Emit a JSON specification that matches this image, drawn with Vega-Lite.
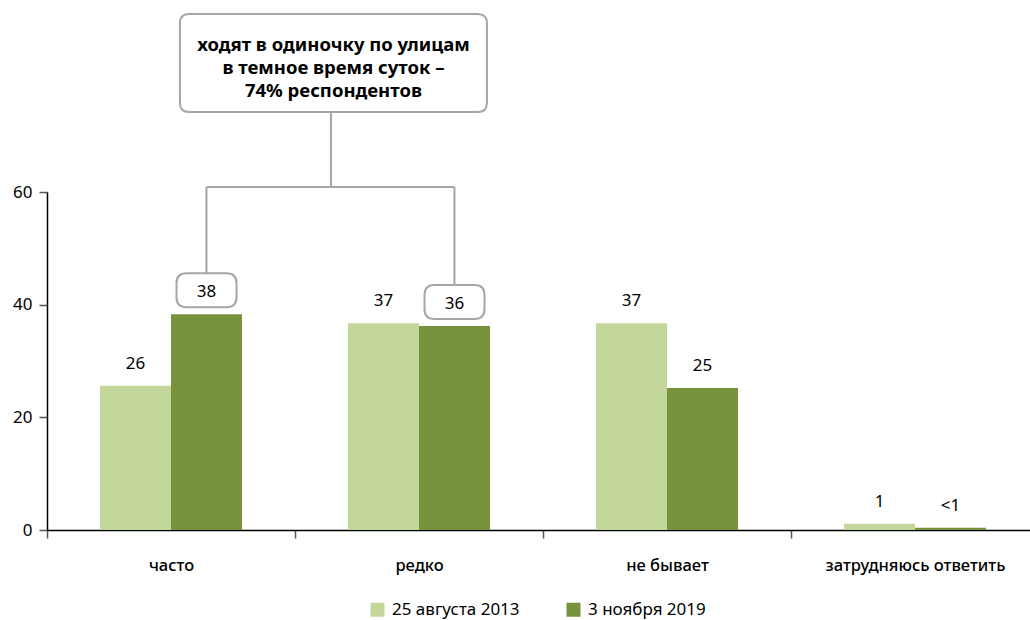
{
  "$schema": "https://vega.github.io/schema/vega-lite/v6.json",
  "width": 992,
  "height": 338,
  "autosize": "none",
  "padding": {"left": 47, "top": 192, "right": 0, "bottom": 90},
  "config": {
    "view": {"stroke": null},
    "font": "Noto Sans",
    "text": {"color": "#000000"},
    "legend": {"padding": 0}
  },
  "datasets": {
    "bars": [
      {"category": "часто", "series": "25 августа 2013", "value": 25.6, "label": "26", "boxed": false},
      {"category": "часто", "series": "3 ноября 2019", "value": 38.3, "label": "38", "boxed": true},
      {"category": "редко", "series": "25 августа 2013", "value": 36.7, "label": "37", "boxed": false},
      {"category": "редко", "series": "3 ноября 2019", "value": 36.2, "label": "36", "boxed": true},
      {"category": "не бывает", "series": "25 августа 2013", "value": 36.7, "label": "37", "boxed": false},
      {"category": "не бывает", "series": "3 ноября 2019", "value": 25.2, "label": "25", "boxed": false},
      {"category": "затрудняюсь ответить", "series": "25 августа 2013", "value": 1.1, "label": "1", "boxed": false},
      {"category": "затрудняюсь ответить", "series": "3 ноября 2019", "value": 0.4, "label": "<1", "boxed": false}
    ],
    "connectors": [
      {"x": 1.145, "x2": 1.145, "y": 74.2, "y2": 60.9},
      {"x": 0.643, "x2": 1.643, "y": 60.9, "y2": 60.9},
      {"x": 0.643, "x2": 0.643, "y": 60.9, "y2": 45.6},
      {"x": 1.643, "x2": 1.643, "y": 60.9, "y2": 43.5}
    ],
    "note": [
      {"x": 1.155, "y": 82.9, "ty": 86.1, "text": ["ходят в одиночку по улицам", "в темное время суток –", "74% респондентов"]}
    ]
  },
  "layer": [
    {
      "data": {"name": "bars"},
      "encoding": {
        "x": {
          "field": "category", "type": "nominal",
          "sort": ["часто", "редко", "не бывает", "затрудняюсь ответить"],
          "scale": {"paddingInner": 0, "paddingOuter": 0},
          "axis": {
            "title": null, "labelAngle": 0, "domainColor": "#000000", "domainWidth": 1.5,
            "tickBand": "extent", "tickSize": 8, "tickColor": "#555555", "tickWidth": 1.5,
            "labelFontSize": 16.5, "labelFontWeight": 500, "labelColor": "#000000", "labelPadding": 19
          }
        },
        "xOffset": {
          "field": "series", "type": "nominal",
          "sort": ["25 августа 2013", "3 ноября 2019"],
          "scale": {"paddingInner": 0, "paddingOuter": 0.746}
        },
        "y": {
          "field": "value", "type": "quantitative", "title": null,
          "scale": {"domain": [0, 60], "nice": false},
          "axis": {
            "values": [0, 20, 40, 60], "grid": false, "domainColor": "#000000", "domainWidth": 1.5,
            "tickSize": 8, "tickColor": "#555555", "tickWidth": 1.5,
            "labelFontSize": 17, "labelColor": "#000000", "labelPadding": 7
          }
        }
      },
      "layer": [
        {
          "mark": {"type": "bar"},
          "encoding": {
            "color": {
              "field": "series", "type": "nominal",
              "scale": {"domain": ["25 августа 2013", "3 ноября 2019"], "range": ["#c4d79b", "#77933c"]},
              "legend": {
                "title": null, "orient": "none", "direction": "horizontal",
                "legendX": 322, "legendY": 409,
                "symbolType": "square", "symbolSize": 196, "symbolStrokeWidth": 0,
                "labelFontSize": 17, "labelColor": "#000000", "labelOffset": 6, "columnPadding": 45
              }
            }
          }
        },
        {
          "transform": [{"filter": "datum.boxed"}],
          "mark": {
            "type": "point",
            "shape": "M -0.667 -0.567 L 0.667 -0.567 Q 1 -0.567 1 -0.233 L 1 0.233 Q 1 0.567 0.667 0.567 L -0.667 0.567 Q -1 0.567 -1 0.233 L -1 -0.233 Q -1 -0.567 -0.667 -0.567 Z",
            "size": 3600, "filled": true, "fill": "#ffffff", "stroke": "#a6a6a6", "strokeWidth": 2,
            "opacity": 1, "yOffset": -24
          }
        },
        {
          "mark": {"type": "text", "dy": -17, "fontSize": 17, "baseline": "alphabetic"},
          "encoding": {"text": {"field": "label"}}
        }
      ]
    },
    {
      "data": {"name": "connectors"},
      "mark": {"type": "rule", "color": "#a6a6a6", "strokeWidth": 2},
      "encoding": {
        "x": {"field": "x", "type": "quantitative", "scale": {"domain": [0, 4], "nice": false, "zero": false}, "axis": null},
        "x2": {"field": "x2"},
        "y": {"field": "y", "type": "quantitative", "title": null},
        "y2": {"field": "y2"}
      }
    },
    {
      "data": {"name": "note"},
      "encoding": {
        "x": {"field": "x", "type": "quantitative", "scale": {"domain": [0, 4], "nice": false, "zero": false}, "axis": null}
      },
      "layer": [
        {
          "mark": {
            "type": "point",
            "shape": "M -0.94 -0.319 L 0.94 -0.319 Q 1 -0.319 1 -0.26 L 1 0.26 Q 1 0.319 0.94 0.319 L -0.94 0.319 Q -1 0.319 -1 0.26 L -1 -0.26 Q -1 -0.319 -0.94 -0.319 Z",
            "size": 94249, "filled": true, "fill": "#ffffff", "stroke": "#a6a6a6", "strokeWidth": 2, "opacity": 1
          },
          "encoding": {"y": {"field": "y", "type": "quantitative", "title": null}}
        },
        {
          "mark": {"type": "text", "fontSize": 18.5, "fontWeight": "bold", "lineHeight": 23, "baseline": "middle", "align": "center"},
          "encoding": {
            "y": {"field": "ty", "type": "quantitative", "title": null},
            "text": {"field": "text"}
          }
        }
      ]
    }
  ],
  "resolve": {"scale": {"x": "independent"}}
}
